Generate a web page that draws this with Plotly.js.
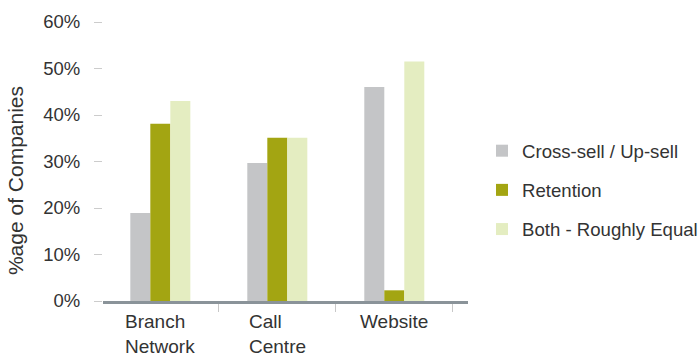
<!DOCTYPE html>
<html>
<head>
<meta charset="utf-8">
<script src="https://cdn.plot.ly/plotly-3.0.1.min.js"></script>
<style>html,body{margin:0;padding:0;background:#fff;}#chart{width:700px;height:356px;}</style>
</head>
<body>
<div id="chart"></div>
<script>
var categories = ["Branch Network", "Call Centre", "Website"];
var categoryLabels = ["Branch<br>Network", "Call<br>Centre", "Website"];
var seriesNames = ["Cross-sell / Up-sell", "Retention", "Both - Roughly Equal"];
var crossSell = [18.9, 29.7, 46.0];
var retention = [38.1, 35.1, 2.3];
var both = [43.0, 35.1, 51.5];
var yTickVals = [0, 10, 20, 30, 40, 50, 60];
var yTickText = ["0%", "10%", "20%", "30%", "40%", "50%", "60%"];
var yTitle = "%age of Companies";

var colors = ["#c4c5c7", "#a3a512", "#e4edc1"];
var font = "Liberation Sans, Arial, Helvetica, sans-serif";
var textColor = "#333333";

var seriesValues = [crossSell, retention, both];
var traces = seriesValues.map(function (vals, i) {
  return {
    type: "bar",
    name: seriesNames[i],
    x: categories,
    y: vals,
    marker: {color: colors[i], line: {width: 0}},
    legendgroup: "g" + i,
    hoverinfo: "x+y+name"
  };
});

var annotations = categories.map(function (c, i) {
  return {
    x: c, xref: "x", y: 0, yref: "paper",
    text: categoryLabels[i], showarrow: false,
    xanchor: "center", yanchor: "top", align: "left",
    yshift: -8,
    font: {family: font, size: 19, color: textColor}
  };
});
annotations.push({
  x: -0.241, xref: "paper", y: 0.43, yref: "paper",
  text: yTitle, textangle: -90, showarrow: false,
  xanchor: "center", yanchor: "middle",
  font: {family: font, size: 21, color: textColor}
});

var layout = {
  width: 700, height: 356,
  margin: {l: 103, r: 232, t: 22, b: 55},
  paper_bgcolor: "#ffffff", plot_bgcolor: "#ffffff",
  barmode: "group", bargap: 0.487, bargroupgap: 0,
  font: {family: font, size: 18, color: textColor},
  xaxis: {
    type: "category",
    range: [-0.49, 2.63],
    showticklabels: false,
    showgrid: false, zeroline: false,
    showline: true, linecolor: "#8a9399", linewidth: 3,
    ticks: "outside", tickson: "boundaries", ticklen: 8, tickcolor: "#c8c8c8", tickwidth: 1
  },
  yaxis: {
    range: [0, 60],
    tickvals: yTickVals, ticktext: yTickText,
    showgrid: false, zeroline: false, showline: false,
    ticks: "outside", ticklen: 8, tickcolor: "#cccccc", tickwidth: 1,
    ticklabelstandoff: 10,
    tickfont: {family: font, size: 18.5, color: textColor}
  },
  legend: {
    xref: "container", yref: "container",
    x: 0.6886, xanchor: "left", y: 0.466, yanchor: "middle",
    font: {family: font, size: 18.6, color: textColor},
    traceorder: "grouped", tracegroupgap: 12,
    bgcolor: "rgba(0,0,0,0)"
  },
  annotations: annotations,
  showlegend: true
};

Plotly.newPlot("chart", traces, layout, {displayModeBar: false, staticPlot: true});
</script>
</body>
</html>
